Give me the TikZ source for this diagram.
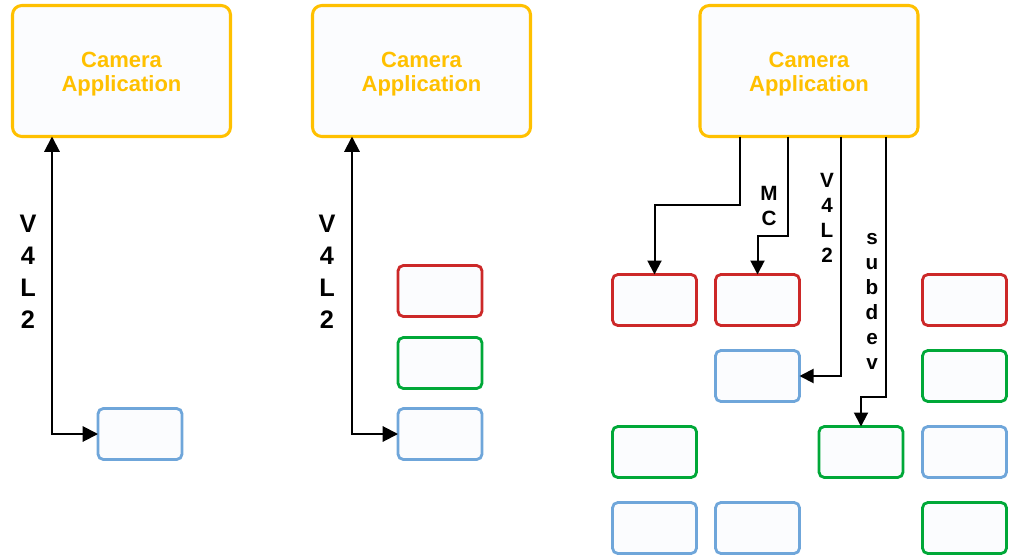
\documentclass[tikz,border=0pt]{standalone}
\usepackage{fontspec}
\setmainfont{Liberation Sans}
\usetikzlibrary{arrows.meta,calc}

\definecolor{appyellow}{HTML}{FFC000}
\definecolor{boxred}{HTML}{CC2828}
\definecolor{boxgreen}{HTML}{00A838}
\definecolor{boxblue}{HTML}{6FA6DA}
\definecolor{boxfill}{HTML}{FBFCFE}

\tikzset{
  appbox/.style={draw=appyellow, fill=boxfill, line width=2.3pt, rounded corners=7pt,
    minimum width=218*0.75pt, minimum height=131*0.75pt, inner sep=0pt, outer sep=0pt},
  apptext/.style={text=appyellow, align=center, inner sep=0pt,
    font={\fontsize{16.5}{18}\selectfont\bfseries}},
  unit/.style={fill=boxfill, line width=2.1pt, rounded corners=4pt,
    minimum width=84*0.75pt, minimum height=51*0.75pt, inner sep=0pt, outer sep=0pt},
  redunit/.style={unit, draw=boxred},
  greenunit/.style={unit, draw=boxgreen},
  blueunit/.style={unit, draw=boxblue},
  link/.style={draw=black, line width=1.5pt, -{Triangle[length=10.5pt,width=10.5pt]}},
  biglink/.style={draw=black, line width=1.5pt,
    {Triangle[length=11.5pt,width=11.5pt]}-{Triangle[length=11.5pt,width=11.5pt]}},
  biglabel/.style={align=center, inner sep=0pt, font={\fontsize{19}{24}\selectfont\bfseries}},
  smalllabel/.style={align=center, inner sep=0pt, font={\fontsize{15.5}{18.75}\selectfont\bfseries}},
}

\begin{document}
\begin{tikzpicture}[x=0.75pt, y=-0.75pt]
  \useasboundingbox (0,0) rectangle (1013,560);

  % applications
  \node[appbox] (app1) at (121.5,71) {};
  \node[appbox] (app2) at (421.5,71) {};
  \node[appbox] (app3) at (809,71) {};
  \node[apptext] (t1) at ($(app1.center)+(0,3)$) {Camera\\Application};
  \node[apptext] (t2) at ($(app2.center)+(0,3)$) {Camera\\Application};
  \node[apptext] (t3) at ($(app3.center)+(0,3)$) {Camera\\Application};

  % single device
  \node[blueunit] (s1) at (140,434) {};

  % stacked devices
  \node[redunit]   (m1) at (440,291) {};
  \node[greenunit] (m2) at (440,363) {};
  \node[blueunit]  (m3) at (440,434) {};

  % media controller graph
  \node[redunit]   (r1) at (654.5,300) {};
  \node[redunit]   (r2) at (757.5,300) {};
  \node[redunit]   (r4) at (964.5,300) {};
  \node[blueunit]  (b2) at (757.5,376) {};
  \node[greenunit] (g4) at (964.5,376) {};
  \node[greenunit] (g1) at (654.5,452) {};
  \node[greenunit] (g3) at (861,452) {};
  \node[blueunit]  (b4) at (964.5,452) {};
  \node[blueunit]  (b1) at (654.5,528) {};
  \node[blueunit]  (b5) at (757.5,528) {};
  \node[greenunit] (g5) at (964.5,528) {};

  % connectors
  \draw[biglink] ($(app1.south)+(-69.5,0)$) |- (s1.west);
  \draw[biglink] ($(app2.south)+(-69.5,0)$) |- (m3.west);

  \draw[link] ($(app3.south)+(-69,0)$) -- ++(0,68) -| (r1.north);
  \draw[link] ($(app3.south)+(-21,0)$) -- ++(0,99) -| (r2.north);
  \draw[link] ($(app3.south)+(32,0)$) |- (b2.east);
  \draw[link] ($(app3.south)+(77,0)$) -- ++(0,260) -| (g3.north);

  % labels
  \node[biglabel] (l1) at (28,272) {V\\4\\L\\2};
  \node[biglabel] (l2) at (327,272) {V\\4\\L\\2};
  \node[smalllabel] (l3) at (769,205.5) {M\\C};
  \node[smalllabel] (l4) at (827,217.5) {V\\4\\L\\2};
  \node[smalllabel] (l5) at (872,301.5) {s\\u\\b\\d\\e\\v};
\end{tikzpicture}
\end{document}
